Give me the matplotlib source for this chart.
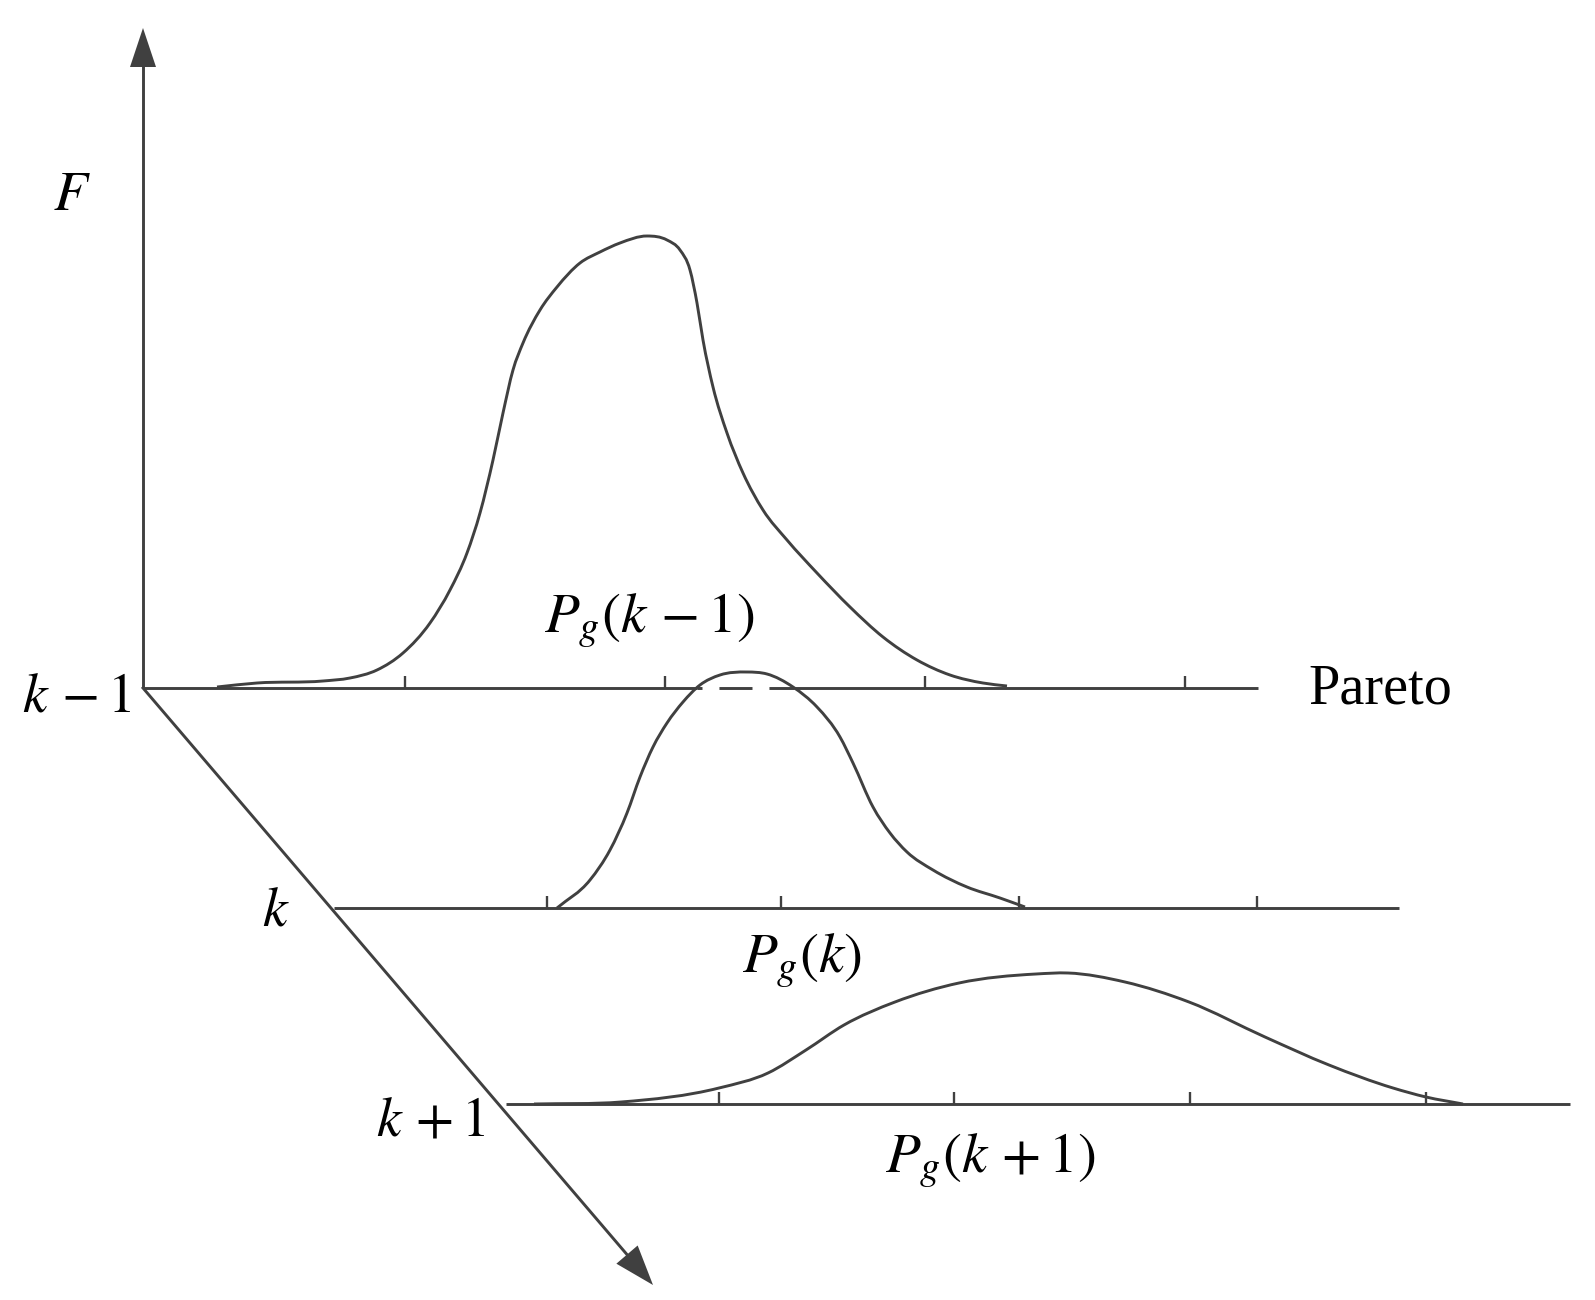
import numpy as np
import matplotlib
matplotlib.use("Agg")
import matplotlib.pyplot as plt
from matplotlib.path import Path
from matplotlib.patches import PathPatch, Polygon

plt.rcParams['font.family'] = ['Liberation Serif', 'DejaVu Serif']
plt.rcParams['mathtext.fontset'] = 'stix'
plt.rcParams['lines.scale_dashes'] = False

# --- diagram data (pixel layout of the original drawing) ---
origin = (143, 688)
f_axis_top = 28
time_axis_end = (653, 1285)

# one layer per generation: baseline y, baseline x extent, tick positions
layer_names = ['k-1', 'k', 'k+1']
baseline_y = [688, 908, 1104]
baseline_x0 = [143, 334, 506]
baseline_x1 = [1258, 1399, 1570]
ticks_km1 = [405, 665, 925, 1185]
ticks_k = [547, 781, 1019, 1257]
ticks_kp1 = [719, 954, 1190, 1426]

# distribution curves: position along Pareto axis and height F above baseline
curve_km1_x = [217, 257, 323, 350, 377, 403, 430, 450, 467, 480, 493, 503, 513, 523, 540,
               557, 580, 600, 620, 647, 667, 680, 690, 697, 703, 713, 727, 743, 763, 787,
               817, 850, 883, 917, 950, 983, 1007]
curve_km1_f = [1, 5, 7, 10, 18, 35, 65, 98, 135, 175, 228, 275, 318, 345, 378,
               401, 425, 436, 445, 452, 448, 438, 418, 385, 348, 301, 255, 215, 178, 148,
               115, 81, 51, 28, 13, 5, 2]
curve_k_x = [557, 590, 610, 627, 640, 653, 667, 683, 700, 720, 747, 767, 793, 817, 840,
             853, 873, 890, 907, 933, 967, 1000, 1025]
curve_k_f = [0, 28, 58, 95, 131, 161, 185, 206, 223, 233, 236, 234, 221, 201, 171,
             145, 101, 75, 56, 38, 21, 10, 1]
curve_kp1_x = [534, 621, 719, 768, 806, 844, 895, 959, 1036, 1068, 1125, 1189, 1265,
               1329, 1393, 1426, 1463]
curve_kp1_f = [0, 2, 16, 31, 54, 79, 102, 121, 130, 131, 122, 102, 67, 39, 16, 7, 0]

col = '#404040'
lw = 2.1


def smooth_path(xs, ys):
    # cubic Hermite through the points (tangents from neighbours),
    # given to matplotlib as Bezier segments
    x = np.asarray(xs, float)
    y = np.asarray(ys, float)
    h = np.diff(x)
    dlt = np.diff(y) / h
    m = np.empty_like(y)
    m[0], m[-1] = dlt[0], dlt[-1]
    m[1:-1] = (dlt[:-1] * h[1:] + dlt[1:] * h[:-1]) / (h[:-1] + h[1:])
    verts = [(x[0], y[0])]
    codes = [Path.MOVETO]
    for i in range(len(x) - 1):
        verts += [(x[i] + h[i] / 3, y[i] + m[i] * h[i] / 3),
                  (x[i + 1] - h[i] / 3, y[i + 1] - m[i + 1] * h[i] / 3),
                  (x[i + 1], y[i + 1])]
        codes += [Path.CURVE4] * 3
    return Path(verts, codes)


fig = plt.figure(figsize=(15.95, 13), dpi=100)
ax = fig.add_axes([0, 0, 1, 1])
ax.set_xlim(0, 1595)
ax.set_ylim(1300, 0)
ax.axis('off')

# F axis with arrow
ax.plot([origin[0], origin[0]], [origin[1], f_axis_top + 30], color=col, lw=lw,
        solid_capstyle='butt')
ax.add_patch(Polygon([(origin[0], f_axis_top), (origin[0] - 13, f_axis_top + 39),
                      (origin[0] + 13, f_axis_top + 39)], closed=True, color=col, lw=0))

# generation axis with arrow
d = np.array(time_axis_end, float) - np.array(origin, float)
u = d / np.hypot(*d)
nrm = np.array([-u[1], u[0]])
tip = np.array(time_axis_end, float)
base = tip - 40 * u
ax.plot([origin[0], base[0] + 5 * u[0]], [origin[1], base[1] + 5 * u[1]], color=col, lw=lw)
ax.add_patch(Polygon([tip, base + 14 * nrm, base - 14 * nrm], closed=True, color=col, lw=0))

curves = [(curve_km1_x, curve_km1_f), (curve_k_x, curve_k_f), (curve_kp1_x, curve_kp1_f)]
ticks = [ticks_km1, ticks_k, ticks_kp1]

# hidden part of the k-1 baseline behind the k curve
hk = baseline_y[1] - baseline_y[0]
kx = np.array(curve_k_x, float)
kf = np.array(curve_k_f, float)
imax = int(np.argmax(kf))
x_in = np.interp(hk, kf[:imax + 1], kx[:imax + 1])
x_out = np.interp(hk, kf[imax:][::-1], kx[imax:][::-1])

for i in range(3):
    y0 = baseline_y[i]
    if i == 0:
        ax.plot([baseline_x0[i], x_in], [y0, y0], color=col, lw=lw, solid_capstyle='butt')
        ax.plot([x_in, x_out], [y0, y0], color=col, lw=lw,
                linestyle=(-15.8, (23.8, 12.2)), dash_capstyle='butt')
        ax.plot([x_out, baseline_x1[i]], [y0, y0], color=col, lw=lw, solid_capstyle='butt')
    else:
        ax.plot([baseline_x0[i], baseline_x1[i]], [y0, y0], color=col, lw=lw,
                solid_capstyle='butt')
    for t in ticks[i]:
        ax.plot([t, t], [y0, y0 - 12], color=col, lw=lw * 0.8, solid_capstyle='butt')
    cx, cf = curves[i]
    ys = y0 - np.array(cf, float)
    ax.add_patch(PathPatch(smooth_path(cx, ys), fill=False, edgecolor=col, lw=lw))

fs = 40
ax.text(53, 210, r'$F$', fontsize=fs, ha='left', va='baseline')
ax.text(22, 712, r'$k\,-1$', fontsize=fs, ha='left', va='baseline')
ax.text(262, 926, r'$k$', fontsize=fs, ha='left', va='baseline')
ax.text(376, 1136, r'$k\,+1$', fontsize=fs, ha='left', va='baseline')
ax.text(1308, 703, 'Pareto', fontsize=40.5, ha='left', va='baseline')
ax.text(649, 633, r'$P_g(k\,-1)$', fontsize=41, ha='center', va='baseline')
ax.text(802, 972, r'$P_g(k)$', fontsize=41, ha='center', va='baseline')
ax.text(990, 1172, r'$P_g(k\,+1)$', fontsize=41, ha='center', va='baseline')

fig.savefig('out.png', dpi=100, facecolor='white')
